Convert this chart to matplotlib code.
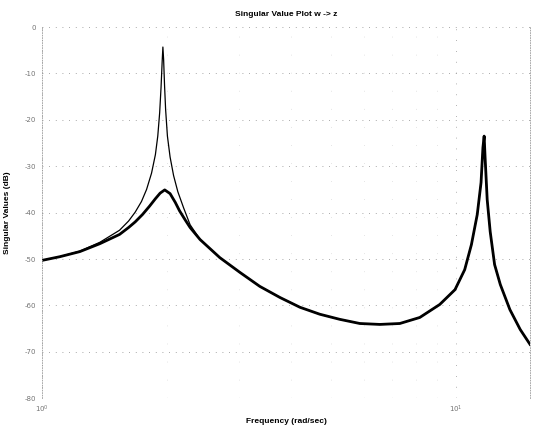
import numpy as np
import matplotlib
matplotlib.use("Agg")
from matplotlib import pyplot as plt
from matplotlib.ticker import LogLocator, NullFormatter

# frequencies (rad/sec) and singular values (dB)
# sigma 1 - thin line, sharp resonance near 2 rad/s
w1 = [1.0, 1.105, 1.235, 1.38, 1.54, 1.62, 1.68, 1.74, 1.79, 1.84, 1.88, 1.905,
      1.925, 1.94, 1.952, 1.96, 1.968, 1.978, 1.99, 2.01, 2.04, 2.08, 2.13,
      2.2, 2.28, 2.41, 2.69, 3.01, 3.36, 3.76, 4.20, 4.69, 5.24, 5.86, 6.55,
      7.32, 8.18, 9.14, 9.95, 10.5, 10.9, 11.26, 11.5, 11.62, 11.7, 11.76,
      11.9, 12.1, 12.4, 12.8, 13.5, 14.3, 15.1]
sv1 = [-50.3, -49.5, -48.3, -46.4, -43.8, -41.8, -39.9, -37.6, -35.0, -31.5,
       -27.5, -23.5, -18.5, -13.0, -7.5, -4.3, -7.0, -12.5, -17.8, -23.5,
       -28.0, -32.0, -35.5, -39.0, -42.6, -45.8, -49.7, -52.9, -55.9, -58.3,
       -60.4, -61.9, -63.0, -63.9, -64.1, -63.9, -62.6, -59.8, -56.6, -52.3,
       -46.9, -40.4, -33.5, -26.0, -23.5, -28.0, -37.2, -44.1, -51.2, -55.5,
       -60.9, -65.2, -68.4]

# sigma 2 - thick line, damped peak near 2 rad/s
w2 = [1.0, 1.105, 1.235, 1.38, 1.54, 1.62, 1.68, 1.75, 1.82, 1.88, 1.93,
      1.98, 2.04, 2.10, 2.15, 2.22, 2.28, 2.41, 2.69, 3.01, 3.36, 3.76, 4.20,
      4.69, 5.24, 5.86, 6.55, 7.32, 8.18, 9.14, 9.95, 10.5, 10.9, 11.26, 11.5,
      11.62, 11.7, 11.76, 11.9, 12.1, 12.4, 12.8, 13.5, 14.3, 15.1]
sv2 = [-50.3, -49.5, -48.4, -46.7, -44.7, -43.2, -42.0, -40.4, -38.6, -37.0,
       -35.8, -35.1, -35.9, -37.8, -39.6, -41.6, -43.2, -45.8, -49.7, -52.9,
       -55.9, -58.3, -60.4, -61.9, -63.0, -63.9, -64.1, -63.9, -62.6, -59.8,
       -56.6, -52.3, -46.9, -40.4, -33.5, -26.0, -23.5, -28.0, -37.2, -44.1,
       -51.2, -55.5, -60.9, -65.2, -68.4]

yticks = [0, -10, -20, -30, -40, -50, -60, -70, -80]

fig = plt.figure(figsize=(5.37, 4.30), dpi=100)
ax = fig.add_axes([0.078, 0.074, 0.909, 0.863])

ax.semilogx(w1, sv1, color="black", lw=0.9)
ax.semilogx(w2, sv2, color="black", lw=2.0)

ax.set_xlim(1.0, 15.1)
ax.set_ylim(-80, 0)
ax.set_yticks(yticks)
ax.set_yticklabels([str(v) for v in yticks])
ax.xaxis.set_major_locator(LogLocator(base=10))
ax.xaxis.set_minor_locator(LogLocator(base=10, subs=np.arange(2, 10)))
ax.xaxis.set_minor_formatter(NullFormatter())

ax.grid(True, which="major", axis="y", color="0.55", lw=0.6, linestyle=(0, (1, 7)))
ax.grid(True, which="major", axis="x", color="0.6", lw=0.6, linestyle=(0, (1, 12)))
ax.grid(True, which="minor", axis="x", color="0.8", lw=0.5, linestyle=(0, (1, 25)))

for s in ax.spines.values():
    s.set_linestyle((0, (1, 2)))
    s.set_color("0.6")
    s.set_linewidth(0.6)
ax.spines["top"].set_visible(False)
ax.spines["bottom"].set_visible(False)

ax.tick_params(which="both", length=0, labelsize=5, labelcolor="0.45", pad=4)

fnt = dict(family="Liberation Sans", weight="bold", fontsize=6)
ax.set_title("Singular Value Plot w -> z", pad=8, **fnt)
ax.set_xlabel("Frequency (rad/sec)", labelpad=2, **fnt)
ax.set_ylabel("Singular Values (dB)", labelpad=10, **fnt)

fig.savefig("out.png", dpi=100)
